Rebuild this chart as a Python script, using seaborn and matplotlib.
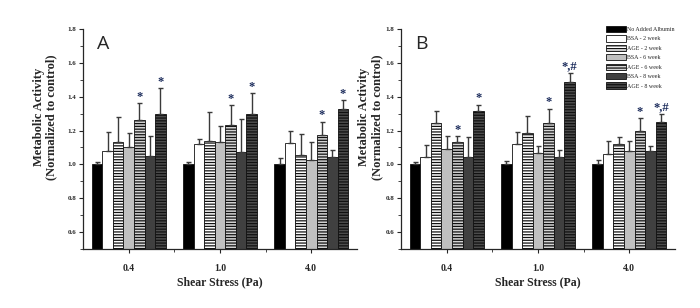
import pandas as pd
import matplotlib
matplotlib.use("Agg")
import matplotlib.pyplot as plt
from matplotlib.ticker import MultipleLocator, FixedLocator
import seaborn as sns

groups = ["0.4", "1.0", "4.0"]
series = ["No Added Albumin", "BSA - 2 week", "AGE - 2 week", "BSA - 6 week",
          "AGE - 6 week", "BSA - 8 week", "AGE - 8 week"]

# rows = shear stress groups, columns = series
a_means = [[1.00, 1.08, 1.135, 1.10, 1.26, 1.05, 1.297],
           [1.00, 1.123, 1.14, 1.135, 1.234, 1.073, 1.297],
           [1.00, 1.127, 1.055, 1.028, 1.174, 1.044, 1.33]]
a_err = [[0.016, 0.11, 0.145, 0.086, 0.10, 0.12, 0.153],
         [0.012, 0.029, 0.17, 0.091, 0.116, 0.197, 0.123],
         [0.04, 0.073, 0.125, 0.107, 0.079, 0.043, 0.05]]
b_means = [[1.00, 1.045, 1.243, 1.091, 1.134, 1.045, 1.314],
           [1.00, 1.12, 1.186, 1.067, 1.243, 1.045, 1.488],
           [1.00, 1.063, 1.12, 1.081, 1.20, 1.081, 1.249]]
b_err = [[0.016, 0.072, 0.071, 0.077, 0.032, 0.117, 0.038],
         [0.02, 0.07, 0.099, 0.042, 0.087, 0.04, 0.052],
         [0.028, 0.075, 0.042, 0.057, 0.073, 0.028, 0.051]]
a_marks = [["", "", "", "", "*", "", "*"],
           ["", "", "", "", "*", "", "*"],
           ["", "", "", "", "*", "", "*"]]
b_marks = [["", "", "", "", "*", "", "*"],
           ["", "", "", "", "*", "", "*,#"],
           ["", "", "", "", "*", "", "*,#"]]

faces = ["#000000", "#ffffff", "#ffffff", "#c0c0c0", "#d4d4d4", "#404040", "#4c4c4c"]
hatches = [None, None, "------", None, "------", None, "------"]
hatch_cols = [None, None, "#000000", None, "#666666", None, "#111111"]

sns.set_style("ticks")
plt.rcParams["font.family"] = ["Liberation Serif", "DejaVu Serif"]
plt.rcParams["hatch.linewidth"] = 0.9

fig = plt.figure(figsize=(7.0, 3.08), dpi=100)
ax_a = fig.add_axes([83 / 700, 59 / 308, 274 / 700, 220 / 308])
ax_b = fig.add_axes([401 / 700, 59 / 308, 274 / 700, 220 / 308])


def draw(ax, means, errs, marks, letter, ylab_x):
    rows = []
    for g, vals in zip(groups, means):
        for s, v in zip(series, vals):
            rows.append({"stress": g, "series": s, "value": v})
    df = pd.DataFrame(rows)
    sns.barplot(data=df, x="stress", y="value", hue="series", order=groups,
                hue_order=series, palette=faces, width=0.81, gap=0,
                edgecolor="#111111", linewidth=0.6, saturation=1,
                errorbar=None, legend=False, ax=ax)
    bars = list(ax.containers)
    for i, cont in enumerate(bars):
        for j, bar in enumerate(cont):
            if hatches[i]:
                bar.set_hatch(hatches[i])
                if hasattr(bar, "set_hatchcolor"):
                    bar.set_hatchcolor(hatch_cols[i])
            cx = bar.get_x() + bar.get_width() / 2
            top = bar.get_height()
            e = errs[j][i]
            ax.errorbar(cx, top, yerr=[[0], [e]], fmt="none", ecolor="#3a3a3a",
                        elinewidth=1.0, capsize=1.8, capthick=1.0, zorder=1)
            if marks[j][i]:
                ax.annotate(marks[j][i], (cx, top + e), xytext=(0, 0.3),
                            textcoords="offset points", ha="center", va="bottom",
                            fontsize=9, fontweight="bold", color="#1c2c5c")
    ax.set_ylim(0.5, 1.8)
    ax.set_xlim(-0.5, 2.5)
    ax.yaxis.set_major_locator(FixedLocator([0.6, 0.8, 1.0, 1.2, 1.4, 1.6, 1.8]))
    ax.yaxis.set_minor_locator(MultipleLocator(0.1))
    ax.xaxis.set_minor_locator(FixedLocator([0.5, 1.5]))
    ax.tick_params(axis="y", which="major", labelsize=5, length=3, width=0.8, pad=2)
    ax.tick_params(axis="y", which="minor", length=2, width=0.6)
    ax.tick_params(axis="x", which="major", labelsize=7, length=3, width=0.8, pad=8)
    ax.tick_params(axis="x", which="minor", length=2, width=0.6)
    for lab in ax.get_xticklabels() + ax.get_yticklabels():
        lab.set_fontweight("bold")
    sns.despine(ax=ax)
    for sp in ["left", "bottom"]:
        ax.spines[sp].set_linewidth(0.9)
    ax.set_xlabel("Shear Stress (Pa)", fontsize=8.5, fontweight="bold", labelpad=2)
    ax.set_ylabel("Metabolic Activity\n(Normalized to control)", fontsize=9,
                  fontweight="bold", linespacing=1.05)
    ax.yaxis.set_label_coords(ylab_x, 0.6)
    ax.text(0.05, 0.93, letter, transform=ax.transAxes, fontsize=14,
            family="Open Sans", va="center", ha="left")
    return bars


draw(ax_a, a_means, a_err, a_marks, "A", -0.095)
b_bars = draw(ax_b, b_means, b_err, b_marks, "B", -0.066)

fig.legend(handles=b_bars, labels=series, loc="upper left",
           bbox_to_anchor=(606 / 700, 1 - 26 / 308), frameon=False, fontsize=4.3,
           handlelength=3.4, handleheight=1.2, handletextpad=0.1,
           labelspacing=0.55, borderpad=0, borderaxespad=0)

fig.savefig("out.png", dpi=100)
